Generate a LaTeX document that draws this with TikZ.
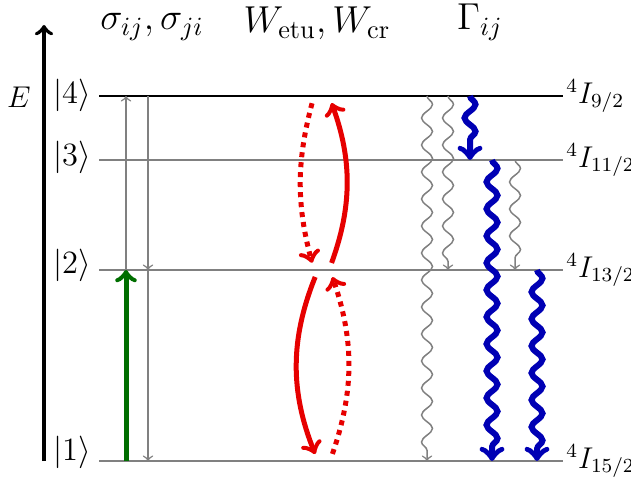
\documentclass[tikz,border=0pt]{standalone}
\usepackage{fix-cm}
\usetikzlibrary{decorations.pathmorphing}
\definecolor{vert}{RGB}{0,110,0}
\definecolor{rouge}{RGB}{230,0,0}
\definecolor{bleu}{RGB}{0,0,180}
\tikzset{
	niveau/.style={gray, line width=0.6pt},
	etiq/.style={black, right, inner sep=1pt, font=\large},
	ket/.style={font=\fontsize{13}{15}\selectfont},
	titre/.style={anchor=base, inner sep=0pt, font=\fontsize{15}{18}\selectfont},
	fleche/.style={gray, line width=0.6pt, ->},
	onde/.style={gray, line width=0.6pt, ->, decorate,
		decoration={snake, amplitude=2.2pt, segment length=10.8pt, post length=3pt}},
	ondebleu/.style={bleu, line width=2.4pt, ->, decorate,
		decoration={snake, amplitude=2.2pt, segment length=10.8pt, post length=4pt}},
	transfert/.style={rouge, line width=2pt, ->, shorten >=3pt, shorten <=3pt},
}
\begin{document}
\begin{tikzpicture}[x=0.4pt, y=-0.4pt]
	\useasboundingbox (0,0) rectangle (631,479);
	% niveaux
	\coordinate (n1) at (99,461);
	\coordinate (n2) at (99,270);
	\coordinate (n3) at (99,160);
	\coordinate (n4) at (99,96);
	\coordinate (f1) at (563,461);
	\coordinate (f2) at (563,270);
	\coordinate (f3) at (563,160);
	\coordinate (f4) at (563,96);
	\draw[niveau] (n1) -- (f1) node[etiq] (t1) {$^4I_{15/2}$};
	\draw[niveau] (n2) -- (f2) node[etiq] (t2) {$^4I_{13/2}$};
	\draw[niveau] (n3) -- (f3) node[etiq] (t3) {$^4I_{11/2}$};
	\draw[line width=0.6pt] (n4) -- (f4) node[etiq] (t4) {$^4I_{9/2}$};
	\node[ket] (k1) at (72,452) {$|1\rangle$};
	\node[ket] (k2) at (72,265) {$|2\rangle$};
	\node[ket] (k3) at (72,157) {$|3\rangle$};
	\node[ket] (k4) at (72,95) {$|4\rangle$};
	% axe
	\coordinate (e0) at (44,461);
	\coordinate (e1) at (44,25);
	\draw[line width=1.6pt, ->] (e0) -- (e1);
	\node[font=\large] (E) at (19,97) {$E$};
	% titres
	\node[titre] (sig) at (152,30) {$\sigma_{ij},\sigma_{ji}$};
	\node[titre] (W) at (317,33) {$W_\mathrm{etu},W_\mathrm{cr}$};
	\node[titre] (G) at (480,30) {$\Gamma_{ij}$};
	% colonnes
	\coordinate (ca) at (126,0);
	\coordinate (cb) at (148,0);
	\coordinate (r1) at (329,0);
	\coordinate (r2) at (314,0);
	\coordinate (r3) at (318,0);
	\coordinate (r4) at (330,0);
	\coordinate (g1) at (427,0);
	\coordinate (g2) at (448,0);
	\coordinate (b1) at (470,0);
	\coordinate (b2) at (492,0);
	\coordinate (g3) at (515,0);
	\coordinate (b3) at (537,0);
	% absorption, emission
	\draw[vert, line width=2pt, ->] (ca |- n1) -- (ca |- n2);
	\draw[fleche] (ca |- n2) -- (ca |- n4);
	\draw[fleche] (cb |- n4) -- (cb |- n2);
	\draw[fleche] (cb |- n2) -- (cb |- n1);
	% transferts
	\draw[transfert] (r1 |- n2) to[bend right=20] (r1 |- n4);
	\draw[transfert, dotted] (r2 |- n4) to[bend right=15] (r2 |- n2);
	\draw[transfert] (r3 |- n2) to[bend right=22] (r3 |- n1);
	\draw[transfert, dotted] (r4 |- n1) to[bend right=19] (r4 |- n2);
	% relaxations
	\draw[onde] (g1 |- n4) -- (g1 |- n1);
	\draw[onde] (g2 |- n4) -- (g2 |- n2);
	\draw[onde] (g3 |- n3) -- (g3 |- n2);
	\draw[ondebleu] (b1 |- n4) -- (b1 |- n3);
	\draw[ondebleu] (b2 |- n3) -- (b2 |- n1);
	\draw[ondebleu] (b3 |- n2) -- (b3 |- n1);
\end{tikzpicture}
\end{document}
